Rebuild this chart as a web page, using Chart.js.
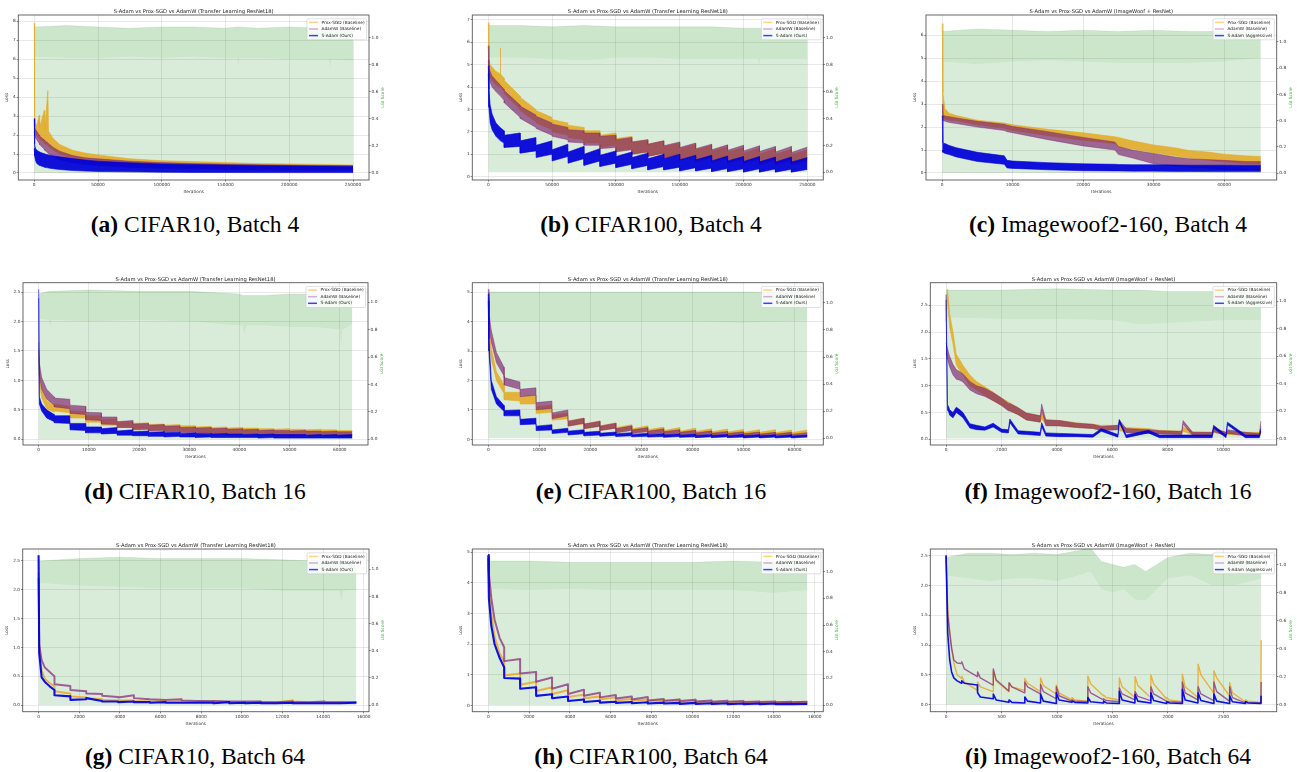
<!DOCTYPE html>
<html><head><meta charset="utf-8">
<script src="https://cdn.jsdelivr.net/npm/chart.js@4.4.1/dist/chart.umd.min.js"></script>
<style>
html,body{margin:0;padding:0;background:#fff;}
body{width:1297px;height:772px;overflow:hidden;position:relative;}
canvas{position:absolute;}
.cap{position:absolute;font-family:'Liberation Serif','Times New Roman',serif;font-size:23.5px;color:#000;white-space:nowrap;transform:translate(-50%,-50%);line-height:1;}
.cap b{font-weight:bold;}
</style></head><body>
<script>
// ---------------- DATA ----------------
const TITLE_TL = 'S-Adam vs Prox-SGD vs AdamW (Transfer Learning ResNet18)';
const TITLE_IW = 'S-Adam vs Prox-SGD vs AdamW (ImageWoof + ResNet)';
const legendLabels = ['Prox-SGD (Baseline)', 'AdamW (Baseline)'];
const sAdamLabels = ['S-Adam (Ours)', 'S-Adam (Aggressive)'];
const captionLetters = ['(a)','(b)','(c)','(d)','(e)','(f)','(g)','(h)','(i)'];
const captionTexts = ['CIFAR10, Batch 4','CIFAR100, Batch 4','Imagewoof2-160, Batch 4',
  'CIFAR10, Batch 16','CIFAR100, Batch 16','Imagewoof2-160, Batch 16',
  'CIFAR10, Batch 64','CIFAR100, Batch 64','Imagewoof2-160, Batch 64'];
const lgiTicks = [0,0.2,0.4,0.6,0.8,1.0];

// (a) CIFAR10, Batch 4
const aXTicks = [0,50000,100000,150000,200000,250000];
const aYTicks = [0,1,2,3,4,5,6,7,8];
const aIter = [0,300,1000,2000,3900,4200,7800,8200,10700,11200,15000,20000,30000,40000,50000,75000,100000,125000,150000,175000,200000,225000,250000];
const aProxHi = [7.9,3.0,2.6,2.5,3.05,2.4,3.3,2.3,4.35,2.2,1.8,1.5,1.2,1.05,0.95,0.75,0.65,0.6,0.55,0.5,0.48,0.45,0.42];
const aProxLo = [2.6,2.3,2.1,1.95,1.85,1.8,1.6,1.55,1.45,1.4,1.2,1.0,0.78,0.62,0.52,0.4,0.33,0.29,0.26,0.24,0.22,0.2,0.19];
const aAdamHi = [2.9,2.4,2.3,2.2,2.0,1.95,1.75,1.7,1.6,1.55,1.35,1.15,0.92,0.8,0.75,0.62,0.55,0.5,0.47,0.44,0.42,0.4,0.38];
const aAdamLo = [2.2,2.0,1.85,1.75,1.55,1.5,1.25,1.2,1.05,1.0,0.85,0.7,0.55,0.45,0.4,0.3,0.25,0.22,0.2,0.18,0.17,0.16,0.15];
const aSadHi = [2.85,1.5,1.3,1.2,1.12,1.1,1.02,1.0,0.96,0.95,0.9,0.85,0.76,0.68,0.62,0.54,0.48,0.45,0.42,0.4,0.38,0.37,0.36];
const aSadLo = [1.3,0.9,0.65,0.5,0.4,0.4,0.32,0.3,0.27,0.26,0.22,0.18,0.13,0.1,0.08,0.06,0.04,0.03,0.03,0.02,0.02,0.02,0.02];
const aLgiIter = [0,25000,50000,75000,100000,125000,150000,159000,160000,161000,175000,200000,225000,231000,232000,233000,250000];
const aLgiHi = [1.08,1.09,1.08,1.07,1.08,1.08,1.07,1.08,1.08,1.08,1.07,1.08,1.07,1.06,1.06,1.06,1.06];
const aLgiLo = [0.86,0.85,0.85,0.86,0.85,0.86,0.85,0.85,0.77,0.85,0.85,0.84,0.84,0.84,0.76,0.84,0.83];

// (b) CIFAR100, Batch 4
const bXTicks = [0,50000,100000,150000,200000,250000];
const bYTicks = [0,1,2,3,4,5,6,7];
const bIter = [0,500,1500,3000,6000,9300,9500,9700,12400, 12500,24900, 25000,37400, 37500,49900, 50000,62400, 62500,74900, 75000,87400, 87500,99900, 100000,112400, 112500,124900, 125000,137400, 137500,149900, 150000,162400, 162500,174900, 175000,187400, 187500,199900, 200000,212400, 212500,224900, 225000,237400, 237500,250000];
const bProxHi = [6.88,5.3,5.0,4.9,4.7,4.6,5.75,4.6,4.4, 4.3,3.6, 3.55,3.0, 2.95,2.65, 2.55,2.4, 2.3,2.2, 2.05,2.05, 1.85,1.95, 1.7,1.8, 1.55,1.65, 1.45,1.6, 1.35,1.5, 1.25,1.45, 1.2,1.4, 1.15,1.35, 1.1,1.3, 1.05,1.28, 1.0,1.25, 1.0,1.22, 0.98,1.2];
const bProxLo = [5.8,4.7,4.4,4.3,4.1,4.0,4.0,4.0,3.8, 3.7,3.0, 2.95,2.45, 2.4,2.1, 2.0,1.85, 1.75,1.65, 1.5,1.5, 1.3,1.4, 1.15,1.25, 1.0,1.1, 0.9,1.05, 0.8,0.95, 0.72,0.9, 0.65,0.85, 0.62,0.8, 0.6,0.78, 0.55,0.75, 0.52,0.72, 0.5,0.7, 0.5,0.68];
const bAdamHi = [5.85,4.9,4.7,4.5,4.3,4.1,4.1,4.1,3.9, 3.85,3.2, 3.15,2.75, 2.7,2.4, 2.35,2.2, 2.1,2.05, 1.95,1.95, 1.8,1.85, 1.65,1.75, 1.55,1.65, 1.45,1.6, 1.38,1.55, 1.3,1.5, 1.25,1.45, 1.2,1.42, 1.18,1.4, 1.15,1.38, 1.12,1.35, 1.1,1.35, 1.08,1.32];
const bAdamLo = [5.2,4.5,4.2,4.0,3.8,3.6,3.6,3.6,3.4, 3.3,2.65, 2.6,2.2, 2.15,1.85, 1.8,1.65, 1.55,1.5, 1.4,1.4, 1.25,1.3, 1.1,1.2, 1.0,1.1, 0.9,1.05, 0.82,1.0, 0.75,0.95, 0.72,0.9, 0.68,0.88, 0.65,0.85, 0.62,0.82, 0.6,0.8, 0.58,0.8, 0.56,0.78];
const bSadHi = [4.95,3.9,3.2,2.8,2.4,2.2,2.2,2.2,2.05, 1.85,1.95, 1.6,1.75, 1.4,1.6, 1.2,1.45, 1.1,1.35, 1.0,1.25, 0.95,1.15, 0.9,1.1, 0.85,1.05, 0.8,1.0, 0.8,1.0, 0.75,0.95, 0.75,0.95, 0.7,0.92, 0.7,0.9, 0.68,0.9, 0.66,0.88, 0.65,0.88, 0.65,0.85];
const bSadLo = [4.6,3.1,2.4,2.1,1.8,1.6,1.6,1.6,1.5, 1.3,1.35, 1.05,1.15, 0.85,1.0, 0.7,0.9, 0.6,0.8, 0.5,0.7, 0.45,0.6, 0.4,0.55, 0.35,0.5, 0.3,0.45, 0.3,0.42, 0.25,0.4, 0.25,0.38, 0.22,0.36, 0.22,0.35, 0.2,0.35, 0.2,0.34, 0.2,0.33, 0.2,0.32];
const bLgiIter = [0,25000,50000,75000,100000,125000,150000,175000,200000,211000,212000,213000,225000,250000];
const bLgiHi = [1.09,1.09,1.08,1.09,1.08,1.08,1.08,1.08,1.07,1.07,1.07,1.07,1.07,1.07];
const bLgiLo = [0.85,0.85,0.84,0.83,0.85,0.85,0.84,0.84,0.84,0.84,0.78,0.84,0.84,0.84];

// (c) Imagewoof2-160, Batch 4
const cXTicks = [0,10000,20000,30000,40000];
const cYTicks = [0,1,2,3,4,5,6];
const cIter = [0,100,400,1000,2000,5000,8800,9200,10000,15000,20000,24500,25000,27000,30000,33000,35000,38000,40000,43000,45200];
const cProxHi = [6.5,3.5,2.8,2.6,2.5,2.3,2.18,2.15,2.1,1.9,1.75,1.58,1.55,1.4,1.22,1.1,0.98,0.9,0.82,0.75,0.72];
const cProxLo = [2.5,2.4,2.35,2.3,2.28,2.1,1.95,1.9,1.85,1.62,1.42,1.28,1.15,1.05,0.88,0.75,0.65,0.55,0.48,0.4,0.38];
const cAdamHi = [3.0,2.55,2.48,2.45,2.4,2.25,2.12,2.08,2.03,1.8,1.55,1.35,1.15,1.0,0.85,0.7,0.62,0.58,0.55,0.5,0.5];
const cAdamLo = [2.3,2.3,2.25,2.2,2.15,2.0,1.85,1.8,1.75,1.45,1.18,1.0,0.8,0.65,0.4,0.3,0.25,0.2,0.15,0.12,0.12];
const cSadHi = [2.5,1.3,1.28,1.2,1.1,0.9,0.75,0.55,0.52,0.45,0.4,0.38,0.37,0.36,0.36,0.35,0.34,0.34,0.34,0.33,0.33];
const cSadLo = [1.0,0.9,0.85,0.8,0.7,0.5,0.38,0.22,0.2,0.14,0.1,0.09,0.09,0.08,0.08,0.07,0.07,0.06,0.06,0.06,0.06];
const cLgiIter = [0,5000,10000,15000,20000,25000,30000,35000,40000,45200];
const cLgiHi = [1.08,1.1,1.09,1.08,1.09,1.08,1.09,1.08,1.08,1.07];
const cLgiLo = [0.85,0.83,0.85,0.86,0.85,0.84,0.84,0.84,0.85,0.88];

// (d) CIFAR10, Batch 16
const dXTicks = [0,10000,20000,30000,40000,50000,60000];
const dYTicks = [0,0.5,1.0,1.5,2.0,2.5];
const dIter = [0,130,600,1600,3100, 3125,6200, 6250,9350, 9375,12475, 12500,15600, 15625,18725, 18750,21850, 21875,24975, 25000,28100, 28125,31225, 31250,34350, 34375,37475, 37500,40600, 40625,43725, 43750,46850, 46875,49975, 50000,53100, 53125,56225, 56250,59350, 59375,62500];
const dProxHi = [1.55,1.1,0.85,0.65,0.58, 0.6,0.56, 0.48,0.47, 0.4,0.4, 0.34,0.35, 0.3,0.3, 0.27,0.28, 0.25,0.26, 0.24,0.25, 0.23,0.23, 0.21,0.22, 0.2,0.21, 0.19,0.2, 0.19,0.19, 0.18,0.18, 0.17,0.18, 0.17,0.17, 0.16,0.17, 0.16,0.16, 0.15,0.15];
const dProxLo = [1.4,0.95,0.7,0.52,0.46, 0.48,0.45, 0.36,0.36, 0.29,0.29, 0.24,0.24, 0.2,0.2, 0.17,0.18, 0.15,0.16, 0.14,0.15, 0.13,0.13, 0.12,0.12, 0.11,0.11, 0.1,0.1, 0.09,0.1, 0.09,0.09, 0.08,0.09, 0.08,0.08, 0.08,0.08, 0.07,0.07, 0.07,0.07];
const dAdamHi = [1.65,1.3,1.05,0.85,0.72, 0.7,0.68, 0.58,0.56, 0.46,0.45, 0.38,0.38, 0.3,0.32, 0.26,0.27, 0.24,0.25, 0.22,0.23, 0.2,0.21, 0.19,0.2, 0.18,0.19, 0.17,0.18, 0.16,0.17, 0.15,0.16, 0.15,0.15, 0.14,0.15, 0.14,0.14, 0.13,0.14, 0.13,0.13];
const dAdamLo = [1.5,1.1,0.85,0.68,0.58, 0.55,0.52, 0.44,0.42, 0.33,0.32, 0.26,0.25, 0.2,0.2, 0.16,0.17, 0.14,0.15, 0.12,0.13, 0.11,0.12, 0.1,0.11, 0.09,0.1, 0.08,0.09, 0.08,0.08, 0.07,0.08, 0.07,0.07, 0.06,0.07, 0.06,0.06, 0.06,0.06, 0.05,0.05];
const dSadHi = [2.55,0.72,0.6,0.5,0.42, 0.4,0.4, 0.27,0.27, 0.21,0.21, 0.18,0.2, 0.14,0.16, 0.13,0.14, 0.12,0.13, 0.11,0.12, 0.1,0.11, 0.1,0.1, 0.09,0.1, 0.09,0.09, 0.08,0.09, 0.08,0.09, 0.08,0.08, 0.08,0.08, 0.07,0.08, 0.07,0.08, 0.07,0.08];
const dSadLo = [2.4,0.6,0.48,0.36,0.3, 0.28,0.27, 0.16,0.15, 0.11,0.11, 0.09,0.1, 0.07,0.07, 0.06,0.06, 0.05,0.05, 0.04,0.05, 0.04,0.04, 0.03,0.04, 0.03,0.03, 0.03,0.03, 0.03,0.03, 0.02,0.03, 0.02,0.02, 0.02,0.02, 0.02,0.02, 0.02,0.02, 0.02,0.02];
const dLgiIter = [0,2000,2300,2600,10000,20000,30000,40000,40600,41000,41400,45000,50000,55000,60000,60300,60600,62500];
const dLgiHi = [1.06,1.08,1.08,1.08,1.09,1.08,1.08,1.06,1.05,1.05,1.05,1.05,1.06,1.06,1.04,1.03,1.03,1.04];
const dLgiLo = [0.88,0.87,0.82,0.87,0.86,0.87,0.86,0.83,0.83,0.76,0.83,0.83,0.82,0.82,0.8,0.65,0.8,0.84];

// (e) CIFAR100, Batch 16
const eXTicks = [0,10000,20000,30000,40000,50000,60000];
const eYTicks = [0,1,2,3,4,5];
const eIter = [0,130,600,1600,3100, 3125,6200, 6250,9350, 9375,12475, 12500,15600, 15625,18725, 18750,21850, 21875,24975, 25000,28100, 28125,31225, 31250,34350, 34375,37475, 37500,40600, 40625,43725, 43750,46850, 46875,49975, 50000,53100, 53125,56225, 56250,59350, 59375,62500];
const eProxHi = [4.9,4.0,3.1,2.3,1.85, 1.6,1.6, 1.45,1.5, 1.1,1.17, 0.82,0.9, 0.62,0.72, 0.52,0.62, 0.46,0.56, 0.4,0.5, 0.36,0.46, 0.33,0.42, 0.3,0.4, 0.28,0.38, 0.27,0.36, 0.26,0.35, 0.25,0.34, 0.24,0.33, 0.24,0.33, 0.23,0.32, 0.23,0.32];
const eProxLo = [4.6,3.5,2.7,2.0,1.55, 1.35,1.3, 1.2,1.2, 0.88,0.92, 0.65,0.7, 0.45,0.52, 0.36,0.44, 0.3,0.38, 0.25,0.33, 0.22,0.3, 0.2,0.28, 0.18,0.26, 0.17,0.24, 0.16,0.23, 0.15,0.22, 0.15,0.21, 0.14,0.21, 0.14,0.2, 0.13,0.2, 0.13,0.2];
const eAdamHi = [5.1,4.3,3.7,2.95,2.45, 2.1,1.95, 1.7,1.75, 1.25,1.3, 0.9,1.0, 0.62,0.72, 0.52,0.62, 0.45,0.55, 0.36,0.46, 0.32,0.4, 0.28,0.36, 0.26,0.33, 0.24,0.31, 0.22,0.29, 0.21,0.27, 0.2,0.26, 0.19,0.25, 0.18,0.24, 0.18,0.24, 0.17,0.23];
const eAdamLo = [4.8,3.9,3.3,2.6,2.15, 1.85,1.7, 1.45,1.5, 1.0,1.05, 0.7,0.8, 0.45,0.55, 0.36,0.45, 0.3,0.38, 0.22,0.3, 0.2,0.26, 0.17,0.23, 0.15,0.21, 0.14,0.19, 0.13,0.18, 0.12,0.17, 0.12,0.16, 0.11,0.15, 0.1,0.15, 0.1,0.14, 0.1,0.14];
const eSadHi = [4.95,3.4,2.0,1.45,1.15, 0.98,1.0, 0.68,0.72, 0.45,0.5, 0.32,0.38, 0.28,0.33, 0.24,0.28, 0.21,0.25, 0.19,0.23, 0.17,0.21, 0.16,0.2, 0.15,0.19, 0.14,0.18, 0.13,0.17, 0.13,0.17, 0.12,0.17, 0.12,0.16, 0.12,0.16, 0.11,0.16, 0.11,0.15];
const eSadLo = [4.7,3.0,1.7,1.2,0.95, 0.8,0.8, 0.5,0.52, 0.3,0.32, 0.2,0.24, 0.15,0.19, 0.12,0.15, 0.11,0.14, 0.1,0.12, 0.09,0.11, 0.08,0.1, 0.07,0.1, 0.07,0.09, 0.06,0.09, 0.06,0.09, 0.06,0.08, 0.05,0.08, 0.05,0.08, 0.05,0.08, 0.05,0.08];
const eLgiIter = [0,10000,20000,30000,40000,50000,62500];
const eLgiHi = [1.08,1.08,1.08,1.08,1.08,1.08,1.07];
const eLgiLo = [0.86,0.86,0.86,0.86,0.86,0.85,0.87];

// (f) Imagewoof2-160, Batch 16
const fXTicks = [0,2000,4000,6000,8000,10000];
const fYTicks = [0,0.5,1.0,1.5,2.0,2.5];
const fIter = [0,50,100,130,250,370,500,610,860,1100,1400,1700,2000,2250,2300,2600,2900,3400,3450,3600,4100,4700,5300,5600,6200,6250,6500,7300,7700,8500,8550,8900,9600,9650,10100,10150,10800,11300,11360];
const fProxHi = [2.4,2.8,2.55,2.35,2.0,1.58,1.48,1.38,1.2,1.08,0.98,0.88,0.77,0.7,0.68,0.59,0.49,0.44,0.5,0.37,0.35,0.31,0.28,0.26,0.26,0.24,0.22,0.2,0.17,0.15,0.23,0.14,0.13,0.21,0.13,0.15,0.13,0.13,0.14];
const fProxLo = [2.2,2.6,2.3,2.1,1.78,1.38,1.28,1.2,1.0,0.92,0.82,0.72,0.63,0.55,0.53,0.46,0.36,0.32,0.38,0.27,0.25,0.22,0.2,0.18,0.18,0.16,0.14,0.12,0.11,0.09,0.15,0.08,0.07,0.13,0.07,0.09,0.07,0.07,0.08];
const fAdamHi = [1.8,1.7,1.6,1.55,1.4,1.3,1.26,1.22,1.08,1.0,0.95,0.87,0.77,0.67,0.67,0.59,0.49,0.44,0.66,0.36,0.35,0.3,0.28,0.24,0.26,0.36,0.2,0.18,0.16,0.15,0.35,0.13,0.13,0.21,0.13,0.18,0.13,0.11,0.34];
const fAdamLo = [1.6,1.5,1.4,1.35,1.2,1.12,1.1,1.07,0.92,0.85,0.8,0.72,0.63,0.53,0.53,0.46,0.36,0.32,0.55,0.25,0.25,0.22,0.2,0.16,0.18,0.28,0.12,0.11,0.1,0.09,0.28,0.07,0.07,0.14,0.07,0.11,0.07,0.05,0.25];
const fSadHi = [2.7,0.65,0.6,0.55,0.5,0.6,0.55,0.5,0.29,0.26,0.23,0.3,0.19,0.18,0.38,0.16,0.15,0.13,0.31,0.12,0.11,0.1,0.09,0.2,0.09,0.37,0.08,0.17,0.08,0.08,0.08,0.08,0.08,0.26,0.08,0.32,0.08,0.08,0.2];
const fSadLo = [2.6,0.55,0.5,0.45,0.4,0.5,0.45,0.4,0.21,0.18,0.17,0.23,0.13,0.12,0.31,0.1,0.09,0.07,0.24,0.06,0.05,0.05,0.04,0.15,0.04,0.32,0.03,0.12,0.03,0.03,0.03,0.03,0.03,0.21,0.03,0.27,0.03,0.03,0.15];
const fLgiIter = [0,2000,4000,6000,7000,8000,10000,11360];
const fLgiHi = [1.08,1.08,1.09,1.08,1.08,1.07,1.07,1.06];
const fLgiLo = [0.88,0.87,0.87,0.86,0.83,0.84,0.86,0.86];

// (g) CIFAR10, Batch 64
const gXTicks = [0,2000,4000,6000,8000,10000,12000,14000,16000];
const gYTicks = [0,0.5,1.0,1.5,2.0,2.5];
const gIter = [0,30,150,310,560,780, 782,1560, 1564,2342, 2346,3124, 3128,3906, 3910,4688, 4692,5470, 5474,6252, 6256,7034, 7038,7816, 7820,8598, 8602,9380, 9384,10162, 10166,10944, 10948,11726, 11730,12508, 12512,13290, 13294,14072, 14076,14854, 14858,15640];
const gProx = [2.3,1.0,0.6,0.45,0.38,0.32, 0.24,0.2, 0.15,0.13, 0.12,0.1, 0.09,0.08, 0.08,0.08, 0.07,0.06, 0.06,0.07, 0.06,0.06, 0.06,0.05, 0.06,0.05, 0.06,0.05, 0.05,0.05, 0.05,0.06, 0.05,0.05, 0.05,0.08, 0.06,0.05, 0.05,0.05, 0.05,0.05, 0.05,0.05];
const gAdam = [2.2,1.05,0.78,0.65,0.57,0.5, 0.36,0.33, 0.26,0.24, 0.2,0.19, 0.16,0.14, 0.13,0.17, 0.12,0.1, 0.1,0.09, 0.09,0.1, 0.08,0.07, 0.07,0.07, 0.07,0.06, 0.06,0.06, 0.06,0.06, 0.05,0.05, 0.05,0.06, 0.05,0.05, 0.05,0.06, 0.05,0.05, 0.05,0.05];
const gSad = [2.6,0.9,0.48,0.4,0.32,0.26, 0.17,0.15, 0.09,0.1, 0.12,0.07, 0.06,0.06, 0.05,0.06, 0.05,0.05, 0.04,0.05, 0.04,0.04, 0.04,0.04, 0.04,0.04, 0.03,0.05, 0.03,0.04, 0.03,0.04, 0.03,0.03, 0.03,0.04, 0.03,0.03, 0.03,0.03, 0.03,0.03, 0.03,0.04];
const gLgiIter = [0,2000,4000,6000,8000,10000,12000,14000,14800,14900,15000,15640];
const gLgiHi = [1.06,1.08,1.09,1.08,1.08,1.08,1.07,1.06,1.04,1.03,1.04,1.03];
const gLgiLo = [0.9,0.88,0.87,0.86,0.86,0.86,0.84,0.84,0.84,0.75,0.84,0.85];

// (h) CIFAR100, Batch 64
const hXTicks = [0,2000,4000,6000,8000,10000,12000,14000,16000];
const hYTicks = [0,1,2,3,4,5];
const hIter = [0,30,150,310,560,780, 782,1560, 1564,2342, 2346,3124, 3128,3906, 3910,4688, 4692,5470, 5474,6252, 6256,7034, 7038,7816, 7820,8598, 8602,9380, 9384,10162, 10166,10944, 10948,11726, 11730,12508, 12512,13290, 13294,14072, 14076,14854, 14858,15640];
const hProx = [4.6,4.0,3.0,2.25,1.7,1.45, 0.98,1.05, 0.68,0.78, 0.48,0.6, 0.38,0.5, 0.28,0.36, 0.24,0.3, 0.2,0.27, 0.18,0.22, 0.16,0.2, 0.14,0.18, 0.13,0.17, 0.12,0.15, 0.12,0.14, 0.11,0.13, 0.11,0.13, 0.1,0.12, 0.1,0.12, 0.1,0.11, 0.1,0.12];
const hAdam = [4.8,4.3,3.5,2.8,2.2,1.9, 1.45,1.52, 1.05,1.1, 0.78,0.92, 0.55,0.7, 0.38,0.52, 0.32,0.42, 0.27,0.35, 0.23,0.3, 0.2,0.28, 0.17,0.22, 0.16,0.2, 0.15,0.19, 0.14,0.17, 0.13,0.16, 0.13,0.15, 0.12,0.14, 0.12,0.14, 0.11,0.13, 0.11,0.13];
const hSad = [4.9,3.5,2.6,2.0,1.55,1.25, 0.9,0.88, 0.55,0.6, 0.32,0.37, 0.24,0.3, 0.15,0.2, 0.12,0.16, 0.1,0.13, 0.09,0.12, 0.08,0.11, 0.07,0.1, 0.07,0.09, 0.06,0.09, 0.06,0.08, 0.06,0.08, 0.05,0.07, 0.05,0.07, 0.05,0.07, 0.05,0.06, 0.05,0.06];
const hLgiIter = [0,2000,4000,6000,8000,10000,12000,14000,15640];
const hLgiHi = [1.08,1.08,1.07,1.07,1.07,1.07,1.08,1.07,1.06];
const hLgiLo = [0.87,0.86,0.87,0.86,0.86,0.86,0.86,0.84,0.86];

// (i) Imagewoof2-160, Batch 64
const iXTicks = [0,500,1000,1500,2000,2500];
const iYTicks = [0,0.5,1.0,1.5,2.0,2.5];
const iIter = [0,15,33,50,70,100,140, 142,165,282, 284,309,424, 426,451,566, 568,593,708, 710,735,850, 852,877,992, 994,1019,1134, 1136,1161,1276, 1278,1303,1418, 1420,1445,1560, 1562,1587,1702, 1704,1729,1844, 1846,1871,1986, 1988,2013,2128, 2130,2155,2270, 2272,2297,2412, 2414,2439,2554, 2556,2581,2696, 2698,2723,2838, 2840];
const iProx = [2.5,1.6,1.25,0.95,0.7,0.5,0.44, 0.48,0.38,0.24, 0.38,0.3,0.22, 0.56,0.4,0.22, 0.36,0.3,0.24, 0.44,0.36,0.22, 0.45,0.32,0.18, 0.33,0.2,0.08, 0.12,0.08,0.06, 0.48,0.35,0.15, 0.16,0.12,0.08, 0.45,0.3,0.12, 0.47,0.32,0.12, 0.5,0.35,0.1, 0.12,0.08,0.05, 0.51,0.3,0.12, 0.68,0.5,0.2, 0.57,0.45,0.15, 0.37,0.2,0.05, 0.08,0.06,0.04, 1.08];
const iAdam = [2.5,1.5,1.2,0.95,0.75,0.7,0.69, 0.72,0.6,0.47, 0.55,0.45,0.33, 0.6,0.42,0.23, 0.37,0.3,0.2, 0.38,0.3,0.18, 0.34,0.22,0.1, 0.3,0.15,0.06, 0.08,0.06,0.05, 0.3,0.2,0.08, 0.1,0.07,0.05, 0.28,0.18,0.08, 0.22,0.14,0.07, 0.3,0.18,0.06, 0.06,0.05,0.04, 0.38,0.2,0.08, 0.3,0.18,0.07, 0.38,0.22,0.06, 0.3,0.12,0.03, 0.05,0.04,0.03, 0.38];
const iSad = [2.5,1.2,0.75,0.55,0.45,0.4,0.36, 0.4,0.36,0.33, 0.2,0.13,0.1, 0.18,0.08,0.04, 0.08,0.04,0.03, 0.13,0.06,0.03, 0.18,0.06,0.02, 0.2,0.08,0.04, 0.06,0.04,0.03, 0.12,0.05,0.03, 0.06,0.03,0.02, 0.22,0.08,0.03, 0.17,0.06,0.03, 0.2,0.07,0.02, 0.05,0.03,0.02, 0.26,0.08,0.03, 0.2,0.07,0.02, 0.18,0.06,0.02, 0.15,0.05,0.02, 0.05,0.03,0.02, 0.15];
const iLgiIter = [0,200,400,600,800,1000,1200,1300,1400,1500,1600,1700,1800,1900,2000,2200,2400,2600,2840];
const iLgiHi = [1.05,1.08,1.08,1.07,1.08,1.07,1.1,1.12,1.02,1.0,0.98,1.0,0.95,1.0,1.05,1.08,1.07,1.04,1.02];
const iLgiLo = [0.92,0.9,0.88,0.9,0.9,0.88,0.92,0.95,0.82,0.8,0.82,0.75,0.74,0.82,0.9,0.92,0.85,0.85,0.9];

// ---------------- PANEL ASSEMBLY ----------------
const PANELS = [
  {title:TITLE_TL, s:0, mode:'band', iter:aIter, prox:[aProxLo,aProxHi], adam:[aAdamLo,aAdamHi], sad:[aSadLo,aSadHi], lgi:[aLgiIter,aLgiLo,aLgiHi], xt:aXTicks, yt:aYTicks},
  {title:TITLE_TL, s:0, mode:'band', iter:bIter, prox:[bProxLo,bProxHi], adam:[bAdamLo,bAdamHi], sad:[bSadLo,bSadHi], lgi:[bLgiIter,bLgiLo,bLgiHi], xt:bXTicks, yt:bYTicks},
  {title:TITLE_IW, s:1, mode:'band', iter:cIter, prox:[cProxLo,cProxHi], adam:[cAdamLo,cAdamHi], sad:[cSadLo,cSadHi], lgi:[cLgiIter,cLgiLo,cLgiHi], xt:cXTicks, yt:cYTicks},
  {title:TITLE_TL, s:0, mode:'band', iter:dIter, prox:[dProxLo,dProxHi], adam:[dAdamLo,dAdamHi], sad:[dSadLo,dSadHi], lgi:[dLgiIter,dLgiLo,dLgiHi], xt:dXTicks, yt:dYTicks},
  {title:TITLE_TL, s:0, mode:'band', iter:eIter, prox:[eProxLo,eProxHi], adam:[eAdamLo,eAdamHi], sad:[eSadLo,eSadHi], lgi:[eLgiIter,eLgiLo,eLgiHi], xt:eXTicks, yt:eYTicks},
  {title:TITLE_IW, s:1, mode:'band', iter:fIter, prox:[fProxLo,fProxHi], adam:[fAdamLo,fAdamHi], sad:[fSadLo,fSadHi], lgi:[fLgiIter,fLgiLo,fLgiHi], xt:fXTicks, yt:fYTicks},
  {title:TITLE_TL, s:0, mode:'line', lw:[1.9,1.9,2.1], iter:gIter, prox:[gProx], adam:[gAdam], sad:[gSad], lgi:[gLgiIter,gLgiLo,gLgiHi], xt:gXTicks, yt:gYTicks},
  {title:TITLE_TL, s:0, mode:'line', lw:[2.0,2.0,2.1], iter:hIter, prox:[hProx], adam:[hAdam], sad:[hSad], lgi:[hLgiIter,hLgiLo,hLgiHi], xt:hXTicks, yt:hYTicks},
  {title:TITLE_IW, s:1, mode:'line', lw:[1.4,1.4,1.6], iter:iIter, prox:[iProx], adam:[iAdam], sad:[iSad], lgi:[iLgiIter,iLgiLo,iLgiHi], xt:iXTicks, yt:iYTicks}
];

// layout: plot-area rectangles (page px) and axis ranges
const GEOM = [
  {L:18.3, R:369,   T:15,    B:180,   x:[-12500,262500], y:[-0.37,8.33],  y1:[-0.052,1.168]},
  {L:472.3,R:823.3, T:15,    B:180,   x:[-12500,262500], y:[-0.15,7.22],  y1:[-0.057,1.168]},
  {L:926,  R:1276.7,T:15,    B:180,   x:[-2300,47450],   y:[-0.305,6.88], y1:[-0.053,1.206]},
  {L:23,   R:368,   T:282.7, B:445,   x:[-3125,65625],   y:[-0.097,2.66], y1:[-0.042,1.143]},
  {L:472.3,R:823.3, T:282.7, B:445,   x:[-3125,65625],   y:[-0.19,5.32],  y1:[-0.049,1.148]},
  {L:930.3,R:1276.7,T:282.7, B:445,   x:[-568,11928],    y:[-0.106,2.92], y1:[-0.048,1.134]},
  {L:22.7, R:369,   T:549,   B:711.7, x:[-782,16260],    y:[-0.116,2.708],y1:[-0.049,1.15]},
  {L:472.3,R:823.3, T:549,   B:711.7, x:[-782,16420],    y:[-0.196,5.10], y1:[-0.05,1.17]},
  {L:930.3,R:1276.7,T:549,   B:711.7, x:[-142,2980],     y:[-0.117,2.61], y1:[-0.052,1.11]}
];
const COLS = [[0,432],[434,866],[868,1297]];
const ROWS = [[0,200],[262,462],[528,730]];
const CAP_X = [195,651,1108];
const CAP_Y = [225,492,757];
const YW = 16, Y1W = 12, XH = 12;   // fixed scale box sizes

const FONT = 'DejaVu Sans';
const FS = 4.3;
const GRID = 'rgba(150,150,150,0.35)';
const STY = {
  band: {
    prox:{fill:'rgba(228,170,35,0.88)', edge:'rgba(228,170,35,0.9)'},
    adam:{fill:'rgba(125,35,110,0.66)', edge:'rgba(125,35,110,0.7)'},
    sad: {fill:'rgba(0,0,215,0.93)',   edge:'rgba(0,0,215,0.95)'}
  },
  line: {prox:'rgba(232,165,30,0.82)', adam:'rgba(130,40,120,0.72)', sad:'rgba(0,0,225,0.93)'},
  legend: ['rgba(255,165,0,0.5)','rgba(128,0,128,0.3)','rgba(0,0,255,0.75)']
};

function pts(xs, ys){ return xs.map((x,i)=>({x:x, y:ys[i]})); }

const decor = {
  id:'mplDecor',
  afterDraw(chart){
    const o = chart.options.plugins.mplDecor;
    const ctx = chart.ctx, ca = chart.chartArea;
    const cx = (ca.left+ca.right)/2, cy = (ca.top+ca.bottom)/2;
    ctx.save();
    ctx.strokeStyle = 'rgba(70,70,70,0.9)'; ctx.lineWidth = 0.9;
    ctx.strokeRect(ca.left, ca.top, ca.right-ca.left, ca.bottom-ca.top);
    ctx.fillStyle = '#222'; ctx.textAlign='center'; ctx.textBaseline='middle';
    ctx.font = '5.2px "'+FONT+'"';
    ctx.fillText(o.title, cx, ca.top-3.4);
    ctx.font = FS+'px "'+FONT+'"'; ctx.fillStyle='#333';
    ctx.fillText('Iterations', cx, ca.bottom+11.7);
    let maxW = 0;
    o.yLabels.forEach(t=>{ maxW = Math.max(maxW, ctx.measureText(t).width); });
    ctx.save(); ctx.translate(ca.left-(maxW+8.5), cy); ctx.rotate(-Math.PI/2);
    ctx.fillText('Loss', 0, 0); ctx.restore();
    ctx.save(); ctx.translate(ca.right+14, cy); ctx.rotate(-Math.PI/2);
    ctx.fillStyle = 'rgba(0,140,0,0.75)'; ctx.fillText('LGI Score', 0, 0); ctx.restore();
    const labels = o.legend;
    let tw = 0; labels.forEach(t=>{ tw = Math.max(tw, ctx.measureText(t).width); });
    const bw = 2 + 9 + 3.5 + tw + 2, bh = 21;
    const bx = ca.right - 2.4 - bw, by = ca.top + 3.8;
    ctx.fillStyle = 'rgba(255,255,255,0.8)'; ctx.strokeStyle = 'rgba(200,200,200,0.9)'; ctx.lineWidth = 0.6;
    ctx.beginPath();
    const r = 1;
    ctx.moveTo(bx+r,by); ctx.lineTo(bx+bw-r,by); ctx.quadraticCurveTo(bx+bw,by,bx+bw,by+r);
    ctx.lineTo(bx+bw,by+bh-r); ctx.quadraticCurveTo(bx+bw,by+bh,bx+bw-r,by+bh);
    ctx.lineTo(bx+r,by+bh); ctx.quadraticCurveTo(bx,by+bh,bx,by+bh-r);
    ctx.lineTo(bx,by+r); ctx.quadraticCurveTo(bx,by,bx+r,by); ctx.closePath();
    ctx.fill(); ctx.stroke();
    ctx.textAlign = 'left';
    labels.forEach((t,i)=>{
      const yy = by + 3.6 + i*6.6;
      ctx.strokeStyle = STY.legend[i]; ctx.lineWidth = 1.5;
      ctx.beginPath(); ctx.moveTo(bx+2, yy); ctx.lineTo(bx+11, yy); ctx.stroke();
      ctx.fillStyle = '#222'; ctx.fillText(t, bx+14.5, yy);
    });
    ctx.restore();
  }
};

PANELS.forEach((p, k)=>{
  const g = GEOM[k];
  const col = COLS[k%3], row = ROWS[Math.floor(k/3)];
  const cw = col[1]-col[0], ch = row[1]-row[0];
  const cv = document.createElement('canvas');
  cv.width = cw; cv.height = ch;
  cv.style.left = col[0]+'px'; cv.style.top = row[0]+'px';
  cv.style.width = cw+'px'; cv.style.height = ch+'px';
  document.body.appendChild(cv);

  const dec = p.yt.some(v=>Math.round(v)!==v) ? 1 : 0;
  const ds = [];
  ds.push({data:pts(p.lgi[0],p.lgi[1]), yAxisID:'y1', borderWidth:0, pointRadius:0, fill:'origin', backgroundColor:'rgba(0,128,0,0.15)', order:20, tension:0});
  ds.push({data:pts(p.lgi[0],p.lgi[2]), yAxisID:'y1', borderWidth:0.6, borderColor:'rgba(0,128,0,0.16)', pointRadius:0, fill:'-1', backgroundColor:'rgba(0,128,0,0.2)', order:20, tension:0});
  const series = [['prox',p.prox,5],['adam',p.adam,4],['sad',p.sad,3]];
  series.forEach(([name,arr,ord],si)=>{
    if (p.mode==='band'){
      const st = STY.band[name];
      ds.push({data:pts(p.iter,arr[0]), yAxisID:'y', borderColor:st.edge, borderWidth:0.6, pointRadius:0, fill:false, order:ord, tension:0});
      ds.push({data:pts(p.iter,arr[1]), yAxisID:'y', borderColor:st.edge, borderWidth:0.6, pointRadius:0, fill:'-1', backgroundColor:st.fill, order:ord, tension:0});
    } else {
      ds.push({data:pts(p.iter,arr[0]), yAxisID:'y', borderColor:STY.line[name], borderWidth:p.lw[si], pointRadius:0, fill:false, order:ord, tension:0, borderJoinStyle:'round'});
    }
  });

  const tickCommon = {font:{size:FS, family:FONT}, color:'#333', padding:1};
  const gridCommon = {color:GRID, lineWidth:0.6, tickLength:1.6, tickColor:'#333', tickWidth:0.6};
  new Chart(cv.getContext('2d'), {
    type:'line',
    data:{datasets:ds},
    options:{
      responsive:false, animation:false, devicePixelRatio:1, normalized:true,
      layout:{padding:{left:g.L-col[0]-YW, right:col[1]-g.R-Y1W, top:g.T-row[0], bottom:row[1]-g.B-XH}},
      plugins:{legend:{display:false}, tooltip:{enabled:false}, title:{display:false},
        mplDecor:{title:p.title, legend:[legendLabels[0],legendLabels[1],sAdamLabels[p.s]], yLabels:p.yt.map(v=>v.toFixed(dec))}},
      scales:{
        x:{type:'linear', min:g.x[0], max:g.x[1],
           afterBuildTicks:s=>{ s.ticks = p.xt.map(v=>({value:v})); },
           afterFit:s=>{ s.height = XH; },
           ticks:Object.assign({maxRotation:0, minRotation:0, autoSkip:false, callback:v=>String(v)}, tickCommon),
           grid:gridCommon, border:{display:false}},
        y:{type:'linear', position:'left', min:g.y[0], max:g.y[1],
           afterBuildTicks:s=>{ s.ticks = p.yt.map(v=>({value:v})); },
           afterFit:s=>{ s.width = YW; },
           ticks:Object.assign({autoSkip:false, callback:v=>Number(v).toFixed(dec)}, tickCommon),
           grid:gridCommon, border:{display:false}},
        y1:{type:'linear', position:'right', min:g.y1[0], max:g.y1[1],
           afterBuildTicks:s=>{ s.ticks = lgiTicks.map(v=>({value:v})); },
           afterFit:s=>{ s.width = Y1W; },
           ticks:Object.assign({autoSkip:false, callback:v=>Number(v).toFixed(1)}, tickCommon),
           grid:{drawOnChartArea:false, tickLength:1.6, tickColor:'#333', tickWidth:0.6}, border:{display:false}}
      }
    },
    plugins:[decor]
  });

  const cap = document.createElement('div');
  cap.className = 'cap';
  cap.style.left = CAP_X[k%3]+'px'; cap.style.top = CAP_Y[Math.floor(k/3)]+'px';
  const b = document.createElement('b'); b.textContent = captionLetters[k];
  cap.appendChild(b);
  cap.appendChild(document.createTextNode(' '+captionTexts[k]));
  document.body.appendChild(cap);
});
</script>
</body></html>
